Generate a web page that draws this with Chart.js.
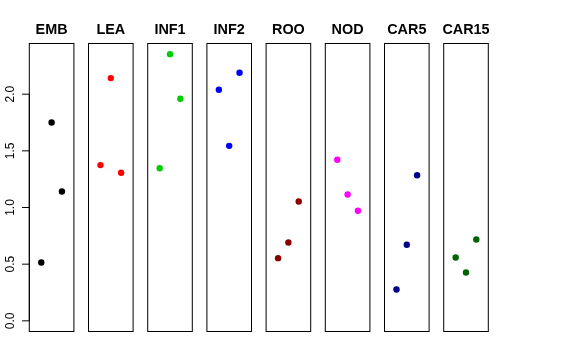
<!DOCTYPE html>
<html><head><meta charset="utf-8">
<script src="https://cdn.jsdelivr.net/npm/chart.js@4/dist/chart.umd.min.js"></script>
<style>
html,body{margin:0;padding:0;background:#fff;}
#wrap{position:relative;width:576px;height:360px;background:#fff;}
#wrap canvas{position:absolute;left:0;top:0;}
</style>
</head><body><div id="wrap"></div>
<script>
// ---- data ----
const panels = ['EMB', 'LEA', 'INF1', 'INF2', 'ROO', 'NOD', 'CAR5', 'CAR15'];
const colors = ['#000000', '#FF0000', '#00CD00', '#0000FF', '#8B0000', '#FF00FF', '#00008B', '#006400'];
const xPositions = [1, 2, 3];
const EMB   = [0.515, 1.750, 1.141];
const LEA   = [1.374, 2.142, 1.306];
const INF1  = [1.347, 2.353, 1.959];
const INF2  = [2.039, 1.544, 2.189];
const ROO   = [0.553, 0.691, 1.053];
const NOD   = [1.421, 1.115, 0.971];
const CAR5  = [0.276, 0.671, 1.285];
const CAR15 = [0.559, 0.426, 0.718];
const seriesValues = [EMB, LEA, INF1, INF2, ROO, NOD, CAR5, CAR15];
const yTicks = [0, 0.5, 1, 1.5, 2];
const yTickLabels = ['0.0', '0.5', '1.0', '1.5', '2.0'];

// ---- layout ----
const W = 576, H = 360;
const panelLeft0 = 29.3, panelPitch = 59.2, panelWidth = 44.6;
const areaTop = 43.5, areaBottom = 331.5;

const allVals = seriesValues.flat();
const dataMax = Math.max(...allVals);
const yMin = 0 - 0.04 * dataMax;
const yMax = dataMax + 0.04 * dataMax;
const xMin = 0 - 0.04 * 4, xMax = 4 + 0.04 * 4;

const wrap = document.getElementById('wrap');

panels.forEach((name, i) => {
  const cv = document.createElement('canvas');
  cv.width = W; cv.height = H;
  cv.style.width = W + 'px'; cv.style.height = H + 'px';
  wrap.appendChild(cv);
  const left = panelLeft0 + i * panelPitch;
  const panelPlugin = {
    id: 'panel' + i,
    afterDraw(chart) {
      const ctx = chart.ctx, a = chart.chartArea;
      ctx.save();
      ctx.strokeStyle = '#000';
      ctx.lineWidth = 1;
      ctx.strokeRect(a.left, a.top, a.right - a.left, a.bottom - a.top);
      ctx.fillStyle = '#000';
      ctx.font = 'bold 14.4px "Liberation Sans", Arial, sans-serif';
      ctx.textAlign = 'center';
      ctx.textBaseline = 'alphabetic';
      ctx.fillText(name, (a.left + a.right) / 2, 34);
      if (i === 0) {
        const ys = chart.scales.y;
        const y0 = ys.getPixelForValue(yTicks[0]);
        const y1 = ys.getPixelForValue(yTicks[yTicks.length - 1]);
        ctx.beginPath();
        ctx.moveTo(a.left, y0); ctx.lineTo(a.left, y1);
        yTicks.forEach(t => {
          const py = ys.getPixelForValue(t);
          ctx.moveTo(a.left, py); ctx.lineTo(a.left - 7.2, py);
        });
        ctx.stroke();
        ctx.font = '12px "Liberation Sans", Arial, sans-serif';
        yTicks.forEach((t, k) => {
          const py = ys.getPixelForValue(t);
          ctx.save();
          ctx.translate(14.3, py);
          ctx.rotate(-Math.PI / 2);
          ctx.textAlign = 'center';
          ctx.textBaseline = 'alphabetic';
          ctx.fillText(yTickLabels[k], 0, 0);
          ctx.restore();
        });
      }
      ctx.restore();
    }
  };
  new Chart(cv, {
    type: 'scatter',
    data: {
      datasets: [{
        label: name,
        data: xPositions.map((x, k) => ({ x: x, y: seriesValues[i][k] })),
        backgroundColor: colors[i],
        borderColor: colors[i],
        borderWidth: 0,
        pointRadius: 3.2,
        pointHoverRadius: 3.2
      }]
    },
    options: {
      responsive: false,
      animation: false,
      devicePixelRatio: 1,
      events: [],
      layout: { padding: { left: left, right: W - left - panelWidth, top: areaTop, bottom: H - areaBottom } },
      scales: {
        x: { type: 'linear', display: false, min: xMin, max: xMax },
        y: { type: 'linear', display: false, min: yMin, max: yMax }
      },
      plugins: { legend: { display: false }, tooltip: { enabled: false }, title: { display: false } }
    },
    plugins: [panelPlugin]
  });
});
</script>
</body></html>
